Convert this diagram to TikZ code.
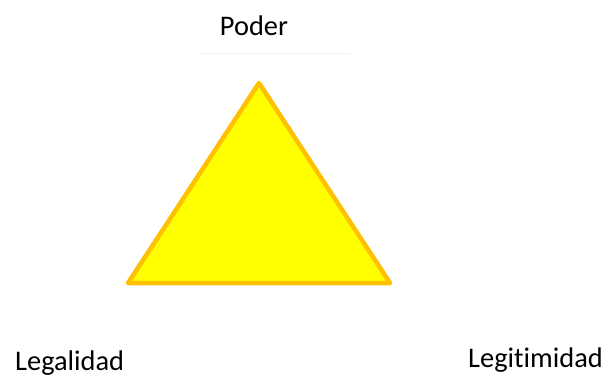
\documentclass[tikz,border=0pt]{standalone}
\usepackage{fontspec}
\setmainfont[Ligatures=NoCommon]{Carlito}
\definecolor{triFill}{HTML}{FFFF00}
\definecolor{triEdge}{HTML}{FFC000}
\definecolor{faint}{HTML}{F0F0F0}
\begin{document}
\begin{tikzpicture}[x=1bp,y=-1bp,
  lbl/.style={inner sep=0pt, font=\fontsize{28.5}{34}\selectfont, text=black}]
\useasboundingbox (0,0) rectangle (608,374);
\fill[white] (0,0) rectangle (608,374);
\coordinate (apex) at (259,83);
\coordinate (bl) at (128,283);
\coordinate (br) at (390,283);
\filldraw[fill=triFill, draw=triEdge, line width=4.5bp, line join=round] (apex) -- (br) -- (bl) -- cycle;
\node[lbl, anchor=base] (poder) at (254,35) {Poder};
\draw[faint, line width=0.8bp] (200,53) -- (350,53);
\node[lbl, anchor=base west] (legal) at (15,370) {Legalidad};
\node[lbl, anchor=base west] (legit) at (468,367) {Legitimidad};
\end{tikzpicture}
\end{document}
